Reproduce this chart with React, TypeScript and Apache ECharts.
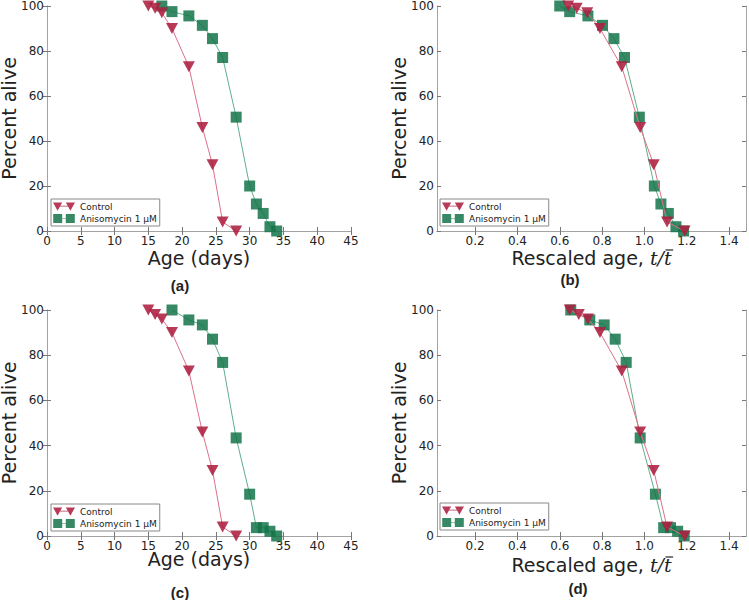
import React, { useEffect, useRef } from "react";
import * as echarts from "echarts";

// ---------- data ----------
const yTicks = [0, 20, 40, 60, 80, 100];
const ageTicks = [0, 5, 10, 15, 20, 25, 30, 35, 40, 45];
const rescaledTicks = [0.2, 0.4, 0.6, 0.8, 1.0, 1.2, 1.4];

const seriesNames = ["Control", "Anisomycin 1 \u03bcM"];

// panel (a)
const ageControlA = [15, 16, 17, 18.5, 21, 23, 24.5, 26, 28];
const survControlA = [100, 99, 97, 90, 73, 46, 29.5, 4, 0];
const ageAnisoA = [17, 18.5, 21, 23, 24.5, 26, 28, 30, 31, 32, 33, 34];
const survAnisoA = [100, 97.5, 95.6, 91.4, 85.5, 77.1, 50.6, 20, 12, 7.8, 1.9, 0];

// panel (b)
const rescControlB = [0.64, 0.68, 0.73, 0.79, 0.893, 0.98, 1.044, 1.107, 1.19];
const survControlB = [100, 99, 97, 90, 73, 46, 29.5, 4, 0];
const rescAnisoB = [0.6, 0.647, 0.733, 0.802, 0.856, 0.906, 0.976, 1.047, 1.078, 1.113, 1.149, 1.185];
const survAnisoB = [100, 97.5, 95.6, 91.4, 85.5, 77.1, 50.6, 20, 12, 7.8, 1.9, 0];

// panel (c)
const ageControlC = [15, 16, 17, 18.5, 21, 23, 24.5, 26, 28];
const survControlC = [100, 98, 96, 90, 73, 46, 29, 4, 0];
const ageAnisoC = [18.5, 21, 23, 24.5, 26, 28, 30, 31, 32, 33, 34];
const survAnisoC = [100, 95.6, 93.4, 87.1, 76.8, 43.4, 18.5, 3.7, 3.7, 2.1, 0];

// panel (d)
const rescControlD = [0.647, 0.69, 0.733, 0.79, 0.893, 0.98, 1.044, 1.107, 1.19];
const survControlD = [100, 98, 96, 90, 73, 46, 29, 4, 0];
const rescAnisoD = [0.652, 0.742, 0.81, 0.862, 0.914, 0.98, 1.052, 1.091, 1.123, 1.157, 1.188];
const survAnisoD = [100, 95.6, 93.4, 87.1, 76.8, 43.4, 18.5, 3.7, 3.7, 2.1, 0];

const panelLabels = ["(a)", "(b)", "(c)", "(d)"];
const ageLabel = "Age (days)";
const rescaledLabelPlain = "Rescaled age, ";
const rescaledLabelMath = "t/t";

// ---------- styles ----------
const RED = "#ad1f40";
const RED_LINE = "#dc7088";
const GREEN = "#137449";
const GREEN_LINE = "#5fae8c";
const BOX = "#a3a3a3";
const TXT = "#222";
const FONT = "DejaVu Sans";
const MATH_FONT = "DejaVu Serif";
const TRI = "path://M0,0L10,0L5,9Z";
const TRI_ICON = "path://M0,0L10,0L5,9ZM5,3.6L19,3.6L19,4.4L5,4.4ZM14,0L24,0L19,9Z";
const SQ_ICON = "path://M0,0L10,0L10,10L0,10ZM5,4.6L19,4.6L19,5.4L5,5.4ZM14,0L24,0L24,10L14,10Z";

const grids = [
  { left: 47, top: 6, width: 304, height: 225 },
  { left: 437, top: 6, width: 309, height: 225 },
  { left: 47, top: 310, width: 304, height: 226 },
  { left: 437, top: 310, width: 309, height: 226 },
];

const xNameGaps = [17, 17, 13, 19];

const legendPos = [
  { left: 51, top: 199 },
  { left: 440, top: 199 },
  { left: 51, top: 504 },
  { left: 440, top: 503 },
];

const titlePos = [
  { left: 180, top: 285 },
  { left: 570, top: 279 },
  { left: 180, top: 592 },
  { left: 578, top: 588 },
];

const X_NAME_SIZE = 19;

function zip(xs: number[], ys: number[]) {
  return xs.map((x, i) => [x, ys[i]]);
}

function measure(text: string, font: string) {
  const c = document.createElement("canvas").getContext("2d");
  if (!c) return text.length * 10;
  c.font = font;
  return c.measureText(text).width;
}

export default function App() {
  const ref = useRef<HTMLDivElement>(null);

  useEffect(() => {
    if (!ref.current) return;
    const chart = echarts.init(ref.current, null, { renderer: "svg" });

    const xAxes: any[] = [];
    const yAxes: any[] = [];
    const series: any[] = [];
    const graphics: any[] = [];

    const panelData = [
      [zip(ageControlA, survControlA), zip(ageAnisoA, survAnisoA)],
      [zip(rescControlB, survControlB), zip(rescAnisoB, survAnisoB)],
      [zip(ageControlC, survControlC), zip(ageAnisoC, survAnisoC)],
      [zip(rescControlD, survControlD), zip(rescAnisoD, survAnisoD)],
    ];

    const plainFont = `${X_NAME_SIZE}px "${FONT}"`;
    const mathFont = `italic ${X_NAME_SIZE}px "${MATH_FONT}"`;
    const wPlain = measure(rescaledLabelPlain, plainFont);
    const wMath = measure(rescaledLabelMath, mathFont);
    const wTSlash = measure("t/", mathFont);
    const wT = measure("t", mathFont);

    for (let g = 0; g < 4; g++) {
      const rescaled = g % 2 === 1;
      const common = {
        gridIndex: g,
        type: "value",
        axisLine: { show: true, lineStyle: { color: BOX, width: 1 } },
        axisTick: { show: true, inside: true, length: 4, lineStyle: { color: "#777" } },
        splitLine: { show: false },
      };
      const xBase: any = rescaled
        ? {
            min: 0.02,
            max: 1.48,
            axisTick: {
              show: true,
              inside: true,
              length: 4,
              lineStyle: { color: "#777" },
              customValues: rescaledTicks,
            },
          }
        : { min: 0, max: 45, interval: 5 };
      xAxes.push({
        ...common,
        ...xBase,
        position: "bottom",
        name: rescaled ? rescaledLabelPlain + "{m|" + rescaledLabelMath + "}" : ageLabel,
        nameLocation: "middle",
        nameGap: xNameGaps[g],
        nameMoveOverlap: false,
        nameTextStyle: {
          fontFamily: FONT,
          fontSize: X_NAME_SIZE,
          color: TXT,
          rich: {
            m: { fontFamily: MATH_FONT, fontStyle: "italic", fontSize: X_NAME_SIZE, color: TXT },
          },
        },
        axisLabel: {
          show: true,
          margin: 4,
          fontFamily: FONT,
          fontSize: 12,
          color: TXT,
          ...(rescaled
            ? { customValues: rescaledTicks, formatter: (v: number) => v.toFixed(1) }
            : {}),
        },
      });
      xAxes.push({
        ...common,
        ...xBase,
        position: "top",
        axisLabel: { show: false },
      });
      yAxes.push({
        ...common,
        min: 0,
        max: 100,
        interval: 20,
        position: "left",
        name: "Percent alive",
        nameLocation: "middle",
        nameGap: 29,
        nameMoveOverlap: false,
        nameTextStyle: { fontFamily: FONT, fontSize: 19, color: TXT },
        axisLabel: { show: true, margin: 3, fontFamily: FONT, fontSize: 12, color: TXT },
      });
      yAxes.push({
        ...common,
        min: 0,
        max: 100,
        interval: 20,
        position: "right",
        axisLabel: { show: false },
      });

      if (rescaled) {
        const gr = grids[g];
        const center = gr.left + gr.width / 2;
        const left = center - (wPlain + wMath) / 2;
        const tx = left + wPlain + wTSlash;
        const y = gr.top + gr.height + xNameGaps[g] + 2;
        graphics.push({
          type: "line",
          shape: { x1: tx + 1.5, y1: y, x2: tx + wT + 1.5, y2: y },
          style: { stroke: TXT, lineWidth: 1.2 },
          silent: true,
        });
      }

      const [ctrl, aniso] = panelData[g];
      series.push({
        type: "line",
        name: seriesNames[0],
        xAxisIndex: 2 * g,
        yAxisIndex: 2 * g,
        data: ctrl,
        symbol: TRI,
        symbolSize: [12, 11],
        itemStyle: { color: RED, opacity: 0.88 },
        lineStyle: { color: RED_LINE, width: 1 },
        z: 3,
      });
      series.push({
        type: "line",
        name: seriesNames[1],
        xAxisIndex: 2 * g,
        yAxisIndex: 2 * g,
        data: aniso,
        symbol: "rect",
        symbolSize: 11,
        itemStyle: { color: GREEN, opacity: 0.85 },
        lineStyle: { color: GREEN_LINE, width: 1 },
        z: 2,
      });
    }

    const legends = legendPos.map((p) => ({
      ...p,
      orient: "vertical",
      itemWidth: 22,
      itemHeight: 9,
      itemGap: 3,
      padding: [3, 3, 3, 2],
      backgroundColor: "#fff",
      borderColor: "#888",
      borderWidth: 1,
      borderRadius: 0,
      selectedMode: false,
      textStyle: { fontFamily: FONT, fontSize: 9, color: TXT, padding: [0, 0, 0, 0] },
      data: [
        { name: seriesNames[0], icon: TRI_ICON },
        { name: seriesNames[1], icon: SQ_ICON },
      ],
    }));

    const titles = panelLabels.map((t, i) => ({
      text: t,
      left: titlePos[i].left,
      top: titlePos[i].top,
      textAlign: "center",
      textVerticalAlign: "middle",
      padding: 0,
      textStyle: { fontFamily: "Liberation Sans", fontWeight: "bold", fontSize: 15, color: TXT },
    }));

    chart.setOption({
      animation: false,
      backgroundColor: "#fff",
      title: titles,
      grid: grids.map((g) => ({ ...g, containLabel: false, outerBoundsMode: "none" })),
      xAxis: xAxes,
      yAxis: yAxes,
      legend: legends,
      graphic: graphics,
      series,
    });

    return () => chart.dispose();
  }, []);

  return (
    <div
      ref={ref}
      style={{ position: "fixed", left: 0, top: 0, width: 749, height: 600 }}
    />
  );
}
